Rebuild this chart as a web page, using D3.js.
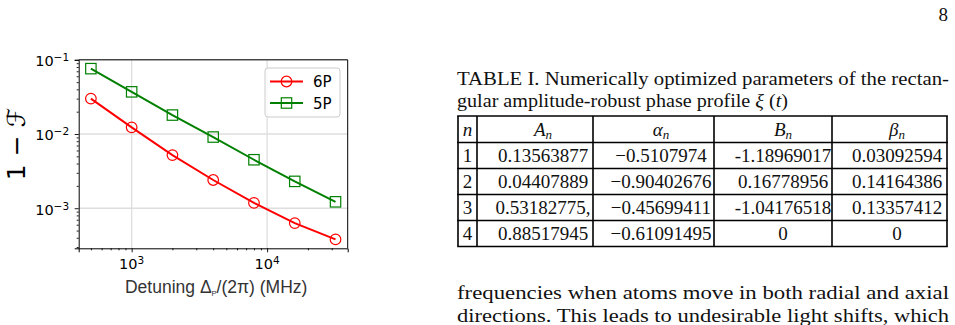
<!DOCTYPE html>
<html>
<head>
<meta charset="utf-8">
<script src="https://cdn.jsdelivr.net/npm/d3@7"></script>
<style>
  body { margin: 0; background: #fff; }
  svg { display: block; }
  .serif { font-family: "Liberation Serif", "DejaVu Serif", serif; fill: #111; }
  .sans { font-family: "DejaVu Sans", sans-serif; }
</style>
</head>
<body>
<div id="page"></div>
<script>
// ---- chart data ----
var detuning = [500, 1000, 2000, 4000, 8000, 16000, 32000];
var infid6P = [0.030, 0.0123, 0.0052, 0.0024, 0.00118, 0.00063, 0.00038];
var infid5P = [0.076, 0.037, 0.018, 0.0091, 0.0045, 0.0023, 0.00122];
var xMajor = [1e3, 1e4];
var yMajor = [1e-1, 1e-2, 1e-3];
var xTickExp = ["3", "4"];
var yTickExp = ["\u22121", "\u22122", "\u22123"];
var seriesNames = ["6P", "5P"];

// ---- table data ----
var tableN = ["1", "2", "3", "4"];
var tableA = ["0.13563877", "0.04407889", "0.53182775,", "0.88517945"];
var tableAlpha = ["\u22120.5107974", "\u22120.90402676", "\u22120.45699411", "\u22120.61091495"];
var tableB = ["-1.18969017", "0.16778956", "-1.04176518", "0"];
var tableBeta = ["0.03092594", "0.14164386", "0.13357412", "0"];

var W = 955, H = 325;
var svg = d3.select("#page").append("svg")
  .attr("width", W)
  .attr("height", H);

// ---------------- chart ----------------
var box = { left: 78.7, right: 347.7, top: 59.8, bottom: 248.3 };

var x = d3.scaleLog()
  .domain([Math.pow(10, 2.609), Math.pow(10, 4.595)])
  .range([box.left, box.right]);
var y = d3.scaleLog()
  .domain([Math.pow(10, -3.54), Math.pow(10, -1.0)])
  .range([box.bottom, box.top]);

var chart = svg.append("g").attr("class", "sans");

// grid
chart.selectAll(".gx").data(xMajor).enter().append("line")
  .attr("x1", function(d) { return x(d); })
  .attr("x2", function(d) { return x(d); })
  .attr("y1", box.top).attr("y2", box.bottom)
  .attr("stroke", "#dedede").attr("stroke-width", 1.3);
chart.selectAll(".gy").data(yMajor).enter().append("line")
  .attr("y1", function(d) { return y(d); })
  .attr("y2", function(d) { return y(d); })
  .attr("x1", box.left).attr("x2", box.right)
  .attr("stroke", "#dedede").attr("stroke-width", 1.3);

// minor tick values
var xMinor = [], yMinor = [];
[100, 1000, 10000].forEach(function(b) {
  for (var k = 2; k <= 9; k++) xMinor.push(b * k);
});
[1e-4, 1e-3, 1e-2].forEach(function(b) {
  for (var k = 2; k <= 9; k++) yMinor.push(b * k);
});
xMinor = xMinor.filter(function(v) { return v > x.domain()[0] && v < x.domain()[1]; });
yMinor = yMinor.filter(function(v) { return v > y.domain()[0] && v < y.domain()[1]; });

// axes
chart.append("g")
  .attr("transform", "translate(0," + box.bottom + ")")
  .call(d3.axisBottom(x).tickValues(xMajor).tickSize(4).tickFormat(""));
chart.append("g")
  .attr("transform", "translate(0," + box.bottom + ")")
  .call(d3.axisBottom(x).tickValues(xMinor).tickSize(2).tickFormat(""))
  .call(function(g) { g.select(".domain").remove(); });
chart.append("g")
  .attr("transform", "translate(" + box.left + ",0)")
  .call(d3.axisLeft(y).tickValues(yMajor).tickSize(4).tickFormat(""));
chart.append("g")
  .attr("transform", "translate(" + box.left + ",0)")
  .call(d3.axisLeft(y).tickValues(yMinor).tickSize(2).tickFormat(""))
  .call(function(g) { g.select(".domain").remove(); });

chart.selectAll(".domain").attr("stroke", "#000").attr("stroke-width", 1);
chart.selectAll(".tick line").attr("stroke", "#000").attr("stroke-width", 0.9);

// spines top / right
chart.append("line").attr("x1", box.left).attr("x2", box.right)
  .attr("y1", box.top).attr("y2", box.top).attr("stroke", "#000");
chart.append("line").attr("x1", box.right).attr("x2", box.right)
  .attr("y1", box.top).attr("y2", box.bottom).attr("stroke", "#000");

// tick labels 10^n
xMajor.forEach(function(v, i) {
  var t = chart.append("text")
    .attr("x", x(v)).attr("y", box.bottom + 20.7)
    .attr("text-anchor", "middle")
    .attr("font-size", 14.5);
  t.append("tspan").text("10");
  t.append("tspan").attr("dy", -5).attr("font-size", 10.5).text(xTickExp[i]);
});
yMajor.forEach(function(v, i) {
  var t = chart.append("text")
    .attr("x", box.left - 9.6).attr("y", y(v) + 6.4)
    .attr("text-anchor", "end")
    .attr("font-size", 14.5);
  t.append("tspan").text("10");
  t.append("tspan").attr("dy", -5).attr("font-size", 10.5).text(yTickExp[i]);
});

// axis labels
var xl = chart.append("text")
  .attr("x", (box.left + box.right) / 2 + 3)
  .attr("y", 293)
  .attr("text-anchor", "middle")
  .attr("font-family", "'Liberation Sans', Arial, sans-serif")
  .attr("font-size", 17.5)
  .attr("fill", "#333");
xl.append("tspan").text("Detuning \u0394");
xl.append("tspan").attr("font-size", 7.5).attr("dy", 2.5).text("P");
xl.append("tspan").attr("dy", -2.5).text("/(2\u03c0) (MHz)");

chart.append("text")
  .attr("transform", "translate(25,144) rotate(-90)")
  .attr("text-anchor", "middle")
  .attr("font-size", 25)
  .text("1 \u2212 \u2131");

// series
var line = d3.line()
  .x(function(d) { return x(d[0]); })
  .y(function(d) { return y(d[1]); });

var series = [
  { name: seriesNames[0], vals: infid6P, color: "#ff0000", shape: "circle" },
  { name: seriesNames[1], vals: infid5P, color: "#008000", shape: "square" }
];

function drawMarker(g, cx, cy, s) {
  if (s.shape === "circle") {
    g.append("circle").attr("cx", cx).attr("cy", cy).attr("r", 5.3)
      .attr("fill", "none").attr("stroke", s.color).attr("stroke-width", 1.2);
  } else {
    g.append("rect").attr("x", cx - 5.2).attr("y", cy - 5.2)
      .attr("width", 10.4).attr("height", 10.4)
      .attr("fill", "none").attr("stroke", s.color).attr("stroke-width", 1.2);
  }
}

series.forEach(function(s) {
  var pts = detuning.map(function(d, i) { return [d, s.vals[i]]; });
  chart.append("path")
    .datum(pts)
    .attr("fill", "none")
    .attr("stroke", s.color)
    .attr("stroke-width", 2)
    .attr("d", line);
  pts.forEach(function(p) {
    drawMarker(chart, x(p[0]), y(p[1]), s);
  });
});

// legend
var lg = chart.append("g").attr("transform", "translate(265,68)");
lg.append("rect")
  .attr("width", 75).attr("height", 49).attr("rx", 3)
  .attr("fill", "#fff").attr("fill-opacity", 0.8)
  .attr("stroke", "#cccccc");
series.forEach(function(s, i) {
  var ly = 13.5 + i * 21.5;
  lg.append("line").attr("x1", 5).attr("x2", 38).attr("y1", ly).attr("y2", ly)
    .attr("stroke", s.color).attr("stroke-width", 2);
  drawMarker(lg, 21.5, ly, s);
  lg.append("text").attr("x", 48).attr("y", ly + 5.5)
    .attr("font-size", 15).text(s.name);
});

// ---------------- page text ----------------
svg.append("text").attr("class", "serif")
  .attr("x", 948).attr("y", 21).attr("text-anchor", "end")
  .attr("font-size", 19).text("8");

svg.append("text").attr("class", "serif")
  .attr("x", 457).attr("y", 85).attr("font-size", 18.5)
  .attr("textLength", 492).attr("lengthAdjust", "spacingAndGlyphs")
  .text("TABLE I. Numerically optimized parameters of the rectan-");
var cap2 = svg.append("text").attr("class", "serif")
  .attr("x", 457).attr("y", 106.5).attr("font-size", 18.5)
  .attr("textLength", 331).attr("lengthAdjust", "spacingAndGlyphs");
cap2.append("tspan").text("gular amplitude-robust phase profile ");
cap2.append("tspan").attr("font-style", "italic").text("\u03be");
cap2.append("tspan").text(" (");
cap2.append("tspan").attr("font-style", "italic").text("t");
cap2.append("tspan").text(")");

// ---------------- table ----------------
var colLines = [458, 477, 593, 714, 832, 947];
var colCenters = [467.5, 543, 661, 783, 897];
var rowLines = [116, 142.5, 168.5, 194.5, 220.5, 246.5];
var headers = [["n", ""], ["A", "n"], ["\u03b1", "n"], ["B", "n"], ["\u03b2", "n"]];
var columns = [tableN, tableA, tableAlpha, tableB, tableBeta];

var tbl = svg.append("g").attr("class", "serif");
colLines.forEach(function(cx) {
  tbl.append("line").attr("x1", cx).attr("x2", cx)
    .attr("y1", rowLines[0]).attr("y2", rowLines[rowLines.length - 1])
    .attr("stroke", "#000").attr("stroke-width", 1.6);
});
rowLines.forEach(function(ry) {
  tbl.append("line").attr("y1", ry).attr("y2", ry)
    .attr("x1", colLines[0] - 0.8).attr("x2", colLines[colLines.length - 1] + 0.8)
    .attr("stroke", "#000").attr("stroke-width", 1.6);
});
headers.forEach(function(h, j) {
  var t = tbl.append("text")
    .attr("x", colCenters[j]).attr("y", rowLines[0] + 20)
    .attr("text-anchor", "middle").attr("font-size", 19);
  t.append("tspan").attr("font-style", "italic").text(h[0]);
  if (h[1]) {
    t.append("tspan").attr("font-style", "italic").attr("font-size", 13)
      .attr("dy", 3).text(h[1]);
  }
});
columns.forEach(function(col, j) {
  col.forEach(function(v, i) {
    tbl.append("text")
      .attr("x", colCenters[j]).attr("y", rowLines[i + 1] + 19.5)
      .attr("text-anchor", "middle").attr("font-size", 19)
      .text(v);
  });
});

// ---------------- body text ----------------
svg.append("text").attr("class", "serif")
  .attr("x", 457).attr("y", 299).attr("font-size", 18.5)
  .attr("textLength", 492).attr("lengthAdjust", "spacingAndGlyphs")
  .text("frequencies when atoms move in both radial and axial");
svg.append("text").attr("class", "serif")
  .attr("x", 457).attr("y", 321.5).attr("font-size", 18.5)
  .attr("textLength", 492).attr("lengthAdjust", "spacingAndGlyphs")
  .text("directions. This leads to undesirable light shifts, which");
</script>
</body>
</html>
